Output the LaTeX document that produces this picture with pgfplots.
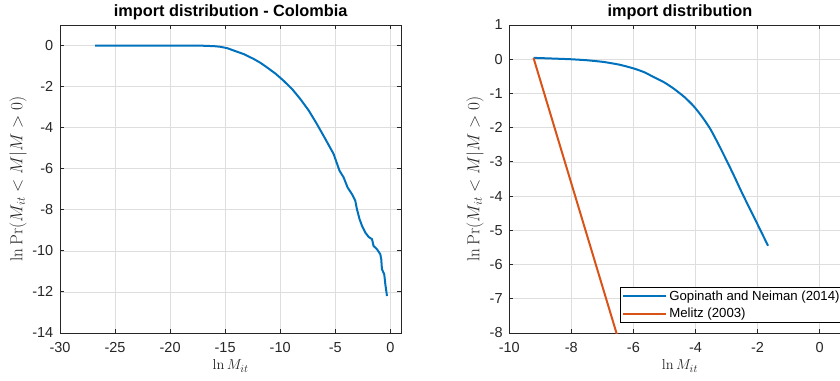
\documentclass[border=0pt]{standalone}
\usepackage{pgfplots}
\pgfplotsset{compat=1.18}
\usepackage[no-math]{fontspec}
\setmainfont{Liberation Sans}
\definecolor{axcol}{rgb}{0.15,0.15,0.15}
\definecolor{gridcol}{rgb}{0.87,0.87,0.87}
\definecolor{mblue}{rgb}{0,0.447,0.741}
\definecolor{mred}{rgb}{0.85,0.325,0.098}
\pgfplotsset{
  mstyle/.style={
    scale only axis,
    width=341.3pt, height=308pt,
    anchor=south west,
    axis line style={draw=axcol, line width=0.9pt},
    grid=major,
    major grid style={draw=gridcol, line width=0.7pt},
    tick align=inside,
    major tick length=4pt,
    every tick/.style={draw=axcol, line width=0.9pt},
    /pgf/number format/assume math mode=true,
    tick label style={font=\fontsize{14.5}{16}\selectfont, text=axcol},
    yticklabel style={inner sep=0pt, xshift=-6.5pt, anchor=east},
    xticklabel style={inner sep=0pt, yshift=-9pt, anchor=north},
    every axis title shift=0pt,
    title style={at={(rel axis cs:0.5,1)}, anchor=base, yshift=8.5pt, font=\bfseries\fontsize{16.3}{18}\selectfont, text=black},
    xlabel style={at={(rel axis cs:0.5,-0.107)}, anchor=center, font=\fontsize{15.8}{18}\selectfont, text=axcol},
    ylabel style={font=\fontsize{16.8}{19}\selectfont, text=axcol},
    xlabel={$\ln M_{it}$},
    ylabel={$\ln \Pr(M_{it} < M | M>0)$},
  }
}
\begin{document}
\begin{tikzpicture}
\useasboundingbox (0pt,0pt) rectangle (840pt,380pt);
\clip (0pt,0pt) rectangle (840pt,380pt);
\begin{axis}[mstyle, at={(60pt,47pt)},
  xmin=-30, xmax=1, ymin=-14, ymax=1,
  xtick={-30,-25,...,0}, ytick={-14,-12,...,0},
  title={import distribution - Colombia},
  ylabel style={at={(rel axis cs:-0.123,0.5)}, anchor=center},
]
\addplot[mblue, line width=2pt] coordinates {
(-26.8,0) (-24,0) (-21,0) (-18.5,-0.003) (-17,-0.01) (-16,-0.03) (-15.45,-0.06) (-14.8,-0.13) (-14.24,-0.24)
(-13.3,-0.42) (-12.42,-0.65) (-11.8,-0.84) (-11.21,-1.06) (-10.4,-1.38) (-9.7,-1.71) (-8.9,-2.13) (-8.18,-2.6)
(-7.4,-3.17) (-6.67,-3.82) (-5.9,-4.55) (-5.15,-5.28) (-4.61,-6.10) (-4.24,-6.42) (-3.88,-6.91) (-3.48,-7.24)
(-3.18,-7.56) (-3.03,-7.97) (-2.79,-8.46) (-2.57,-8.78) (-2.27,-9.11) (-1.97,-9.32) (-1.66,-9.43) (-1.52,-9.76)
(-1.21,-9.92) (-0.91,-10.16) (-0.82,-10.41) (-0.76,-10.89) (-0.55,-11.14) (-0.45,-11.63) (-0.30,-12.2)
};
\end{axis}
\begin{axis}[mstyle, at={(509.3pt,47pt)},
  xmin=-10, xmax=1, ymin=-8, ymax=1,
  xtick={-10,-8,...,0}, ytick={-8,-7,...,1},
  title={import distribution},
  ylabel style={at={(rel axis cs:-0.1005,0.5)}, anchor=center},
  legend cell align=left,
  legend image code/.code={\draw[#1] (0pt,0pt) -- (43pt,0pt);},
  legend style={at={(rel axis cs:0.3243,0.0334)}, anchor=south west,
    draw=black, line width=0.7pt, fill=white, font=\fontsize{13.2}{15}\selectfont, text=black,
    inner xsep=2pt, inner ysep=1pt, row sep=2.5pt,
    nodes={inner sep=2pt}},
]
\addplot[mblue, line width=2pt, smooth, tension=0.4] coordinates {
(-9.22,0.04) (-8.6,0.02) (-8.03,0.0) (-7.5,-0.03) (-6.96,-0.08) (-6.45,-0.16) (-5.99,-0.27) (-5.65,-0.38) (-5.35,-0.52)
(-5.0,-0.68) (-4.7,-0.86) (-4.35,-1.11) (-4.05,-1.38) (-3.78,-1.69) (-3.52,-2.04) (-3.25,-2.5) (-2.98,-2.99) (-2.75,-3.42)
(-2.55,-3.81) (-2.33,-4.22) (-2.12,-4.6) (-1.9,-5.01) (-1.66,-5.45)
};
\addlegendentry{Gopinath and Neiman (2014)}
\addplot[mred, line width=2pt] coordinates {(-9.22,0.04) (-6.38,-8.5)};
\addlegendentry{Melitz (2003)}
\end{axis}
\end{tikzpicture}
\end{document}
